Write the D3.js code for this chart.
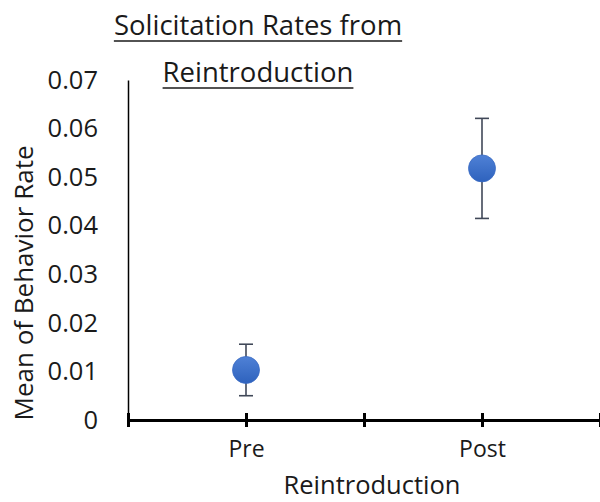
<!DOCTYPE html>
<html><head><meta charset="utf-8">
<script src="https://cdn.jsdelivr.net/npm/d3@7"></script>
<style>body{margin:0;background:#fff}svg{display:block}</style>
</head><body>
<script>
const categories = ["Pre", "Post"];
const xPositions = [1, 2];
const means = [0.0103, 0.0518];
const errors = [0.0053, 0.0103];
const yTicks = [0, 0.01, 0.02, 0.03, 0.04, 0.05, 0.06, 0.07];
const xTicks = [0.5, 1, 1.5, 2, 2.5];
const titleLines = ["Solicitation Rates from", "Reintroduction"];

const W = 600, H = 502;
const font = "'Open Sans', sans-serif";
const svg = d3.select("body").append("svg").attr("width", W).attr("height", H);

const x = d3.scaleLinear().domain([0.5, 2.5]).range([128, 600]);
const y = d3.scaleLinear().domain([0, 0.07]).range([420, 80]);

const defs = svg.append("defs");
const grad = defs.append("linearGradient").attr("id", "mk").attr("x1", 0).attr("y1", 0).attr("x2", 0).attr("y2", 1);
grad.append("stop").attr("offset", "0%").attr("stop-color", "#4f81d6");
grad.append("stop").attr("offset", "100%").attr("stop-color", "#2e62bd");

// y axis
const yAxis = svg.append("g").attr("transform", `translate(${x(0.5)},0)`)
  .call(d3.axisLeft(y).tickValues(yTicks).tickSize(0).tickPadding(30)
    .tickFormat(d => d === 0 ? "0" : d3.format(".2f")(d)));
yAxis.select(".domain").attr("stroke", "#000").attr("stroke-width", 1.5);
yAxis.selectAll("text").attr("font-family", font).attr("font-size", 25.5).attr("fill", "#1a1a1a");

// x axis
const xAxis = svg.append("g").attr("transform", `translate(0,${y(0)})`)
  .call(d3.axisBottom(x).tickValues(xTicks).tickSize(0)
    .tickFormat(d => { const i = xPositions.indexOf(d); return i >= 0 ? categories[i] : ""; }));
xAxis.select(".domain").attr("stroke", "#000").attr("stroke-width", 3);
xAxis.selectAll(".tick line").attr("y1", -7).attr("y2", 7).attr("stroke", "#000").attr("stroke-width", 3);
xAxis.selectAll("text").attr("y", 37).attr("dy", "0").attr("font-family", font).attr("font-size", 23).attr("fill", "#1a1a1a");

// error bars
const eb = svg.append("g").attr("stroke", "#404858").attr("stroke-width", 1.6);
means.forEach((m, i) => {
  const cx = x(xPositions[i]);
  eb.append("line").attr("x1", cx).attr("x2", cx).attr("y1", y(m + errors[i])).attr("y2", y(m - errors[i]));
  [m + errors[i], m - errors[i]].forEach(v =>
    eb.append("line").attr("x1", cx - 7).attr("x2", cx + 7).attr("y1", y(v)).attr("y2", y(v)));
});

// markers
svg.append("g").selectAll("circle").data(means).join("circle")
  .attr("cx", (d, i) => x(xPositions[i])).attr("cy", d => y(d)).attr("r", 13.5)
  .attr("fill", "url(#mk)").attr("stroke", "#3a6bc4").attr("stroke-width", 0.8);

// title
const tg = svg.append("g").attr("font-family", font).attr("font-size", 27.5).attr("fill", "#1a1a1a").attr("text-anchor", "middle");
const baselines = [35, 82];
titleLines.forEach((t, i) => {
  const tx = tg.append("text").attr("x", 258).attr("y", baselines[i]).text(t);
  const w = tx.node().getComputedTextLength();
  svg.append("line").attr("x1", 258 - w / 2).attr("x2", 258 + w / 2)
    .attr("y1", baselines[i] + 6).attr("y2", baselines[i] + 6).attr("stroke", "#1a1a1a").attr("stroke-width", 1.5);
});

// axis titles
svg.append("text").attr("transform", `translate(33,283) rotate(-90)`).attr("text-anchor", "middle")
  .attr("font-family", font).attr("font-size", 26).attr("fill", "#1a1a1a").text("Mean of Behavior Rate");
svg.append("text").attr("x", 372).attr("y", 494).attr("text-anchor", "middle")
  .attr("font-family", font).attr("font-size", 25.5).attr("fill", "#1a1a1a").text("Reintroduction");
</script>
</body></html>
